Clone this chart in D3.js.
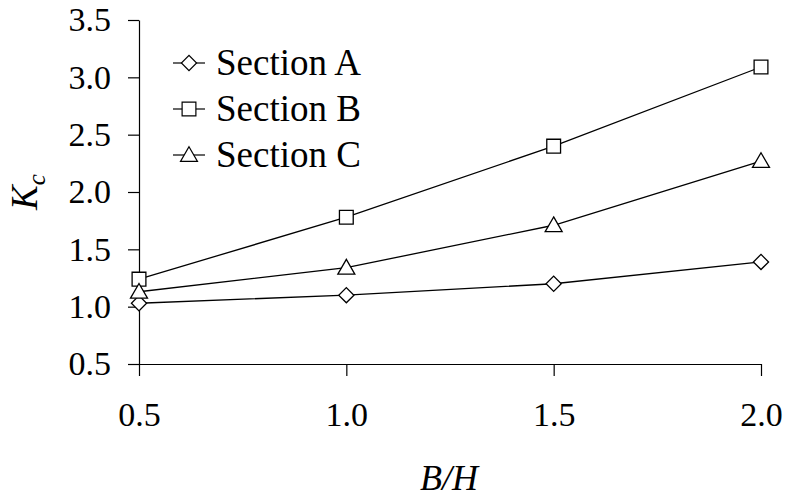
<!DOCTYPE html>
<html>
<head>
<meta charset="utf-8">
<script src="https://cdn.jsdelivr.net/npm/d3@7/dist/d3.min.js"></script>
</head>
<body style="margin:0">
<div class="plot"></div>
<script>
// chart data
const ratios = [0.5, 1.0, 1.5, 2.0];
const sectionA = [1.03, 1.10, 1.20, 1.39];
const sectionB = [1.24, 1.78, 2.40, 3.09];
const sectionC = [1.13, 1.34, 1.71, 2.27];
const seriesNames = ["Section A", "Section B", "Section C"];
const xTicks = [0.5, 1.0, 1.5, 2.0];
const yTicks = [0.5, 1.0, 1.5, 2.0, 2.5, 3.0, 3.5];

const fontName = "Liberation Serif";
const margin = {top: 20, right: 28, bottom: 133, left: 139};
const w = 789 - margin.left - margin.right;
const h = 497 - margin.top - margin.bottom;

const svg = d3.select(".plot")
    .append("svg")
        .attr("width", 789)
        .attr("height", 497)
    .append("g")
        .attr("transform", "translate(" + margin.left + "," + margin.top + ")");

const x = d3.scaleLinear().domain([0.5, 2.0]).range([0, w]);
const y = d3.scaleLinear().domain([0.5, 3.5]).range([h, 0]);

// x axis
const xAxis = svg.append("g")
    .attr("transform", "translate(0," + h + ")")
    .call(d3.axisBottom(x).tickValues(xTicks).tickFormat(d3.format(".1f"))
        .tickSizeInner(12).tickSizeOuter(0).tickPadding(26));
xAxis.select(".domain").attr("d", "M-11,0.5H" + w);
xAxis.selectAll("text").attr("dy", "0.71em");

// y axis
const yAxis = svg.append("g")
    .call(d3.axisLeft(y).tickValues(yTicks).tickFormat(d3.format(".1f"))
        .tickSizeInner(11).tickSizeOuter(0).tickPadding(17));
svg.selectAll(".domain, .tick line").attr("stroke", "#000").attr("stroke-width", 1.2);
svg.selectAll(".tick text")
    .attr("fill", "#000")
    .attr("font-family", fontName)
    .attr("font-size", 34)
    .style("font-family", fontName)
    .style("font-size", "34px");

// axis titles
svg.append("text")
    .attr("x", x(1.25) - 1)
    .attr("y", h + 126)
    .attr("text-anchor", "middle")
    .attr("font-family", fontName)
    .style("font-family", fontName)
    .attr("font-size", 36)
    .attr("font-style", "italic")
    .text("B/H");

const kc = svg.append("text")
    .attr("transform", "translate(-102," + (h / 2) + ") rotate(-90)")
    .attr("text-anchor", "middle")
    .attr("font-family", fontName)
    .style("font-family", fontName)
    .attr("font-size", 37)
    .attr("font-style", "italic");
kc.append("tspan").text("K");
kc.append("tspan").attr("dy", 8).attr("font-size", 25).text("c");

// marker shapes (diamond = square turned 45 degrees)
const shapes = [d3.symbolSquare, d3.symbolSquare, d3.symbolTriangle];
const sizes = [115, 190, 125];
const turns = [45, 0, 0];
const symbolPath = i => d3.symbol().type(shapes[i]).size(sizes[i])();

const allSeries = [sectionA, sectionB, sectionC];
const line = d3.line().x((d, i) => x(ratios[i])).y(d => y(d));

allSeries.forEach((vals, s) => {
    svg.append("path")
        .datum(vals)
        .attr("d", line)
        .attr("fill", "none")
        .attr("stroke", "#000")
        .attr("stroke-width", 1.3);
    svg.selectAll(".m" + s)
        .data(vals)
        .enter()
        .append("path")
            .attr("class", "m" + s)
            .attr("d", symbolPath(s))
            .attr("transform", (d, i) => "translate(" + x(ratios[i]) + "," + (y(d) + (s == 2 ? 1.5 : 0)) + ") rotate(" + turns[s] + ")")
            .attr("fill", "#fff")
            .attr("stroke", "#000")
            .attr("stroke-width", 1.3);
});

// legend
const legend = svg.append("g").attr("transform", "translate(34,43)");
seriesNames.forEach((name, i) => {
    const row = legend.append("g").attr("transform", "translate(0," + i * 46 + ")");
    row.append("line")
        .attr("x1", 0).attr("x2", 32)
        .attr("stroke", "#000").attr("stroke-width", 1.2);
    row.append("path")
        .attr("d", symbolPath(i))
        .attr("transform", "translate(16," + (i == 2 ? 1.5 : 0) + ") rotate(" + turns[i] + ")")
        .attr("fill", "#fff")
        .attr("stroke", "#000")
        .attr("stroke-width", 1.2);
    row.append("text")
        .attr("x", 43)
        .attr("y", 12)
        .attr("font-family", fontName)
        .style("font-family", fontName)
        .attr("font-size", 37)
        .text(name);
});
</script>
</body>
</html>
